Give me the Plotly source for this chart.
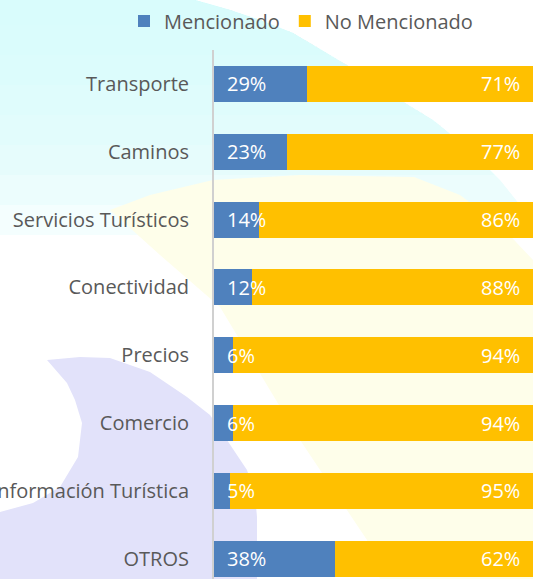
import plotly.graph_objects as go
import numpy as np

categories = ["Transporte", "Caminos", "Servicios Turísticos", "Conectividad",
              "Precios", "Comercio", "Información Turística", "OTROS"]
mencionado = [29, 23, 14, 12, 6, 6, 5, 38]
no_mencionado = [71, 77, 86, 88, 94, 94, 95, 62]

W, H = 533, 579
L, R, T, B = 214, 0, 50, 0
PW, PH = W - L - R, H - T - B


def px(x):
    return (x - L) / PW


def py(y):
    return (H - B - y) / PH


def path(points):
    return "M " + " L ".join(f"{px(x):.5f},{py(y):.5f}" for x, y in points) + " Z"


shapes = []
# cyan top-left region (gradient made with stacked translucent bands)
cyan_edge = [(195, 0), (230, 10), (260, 20), (293, 33), (350, 67), (400, 100),
             (433, 120), (470, 150), (500, 180), (520, 205), (533, 225)]
ex = np.array([p[0] for p in cyan_edge], float)
ey = np.array([p[1] for p in cyan_edge], float)
for yk in [25, 55, 85, 115, 145, 175, 205, 235]:
    pts = [(0, 0)] + [p for p in cyan_edge if p[1] < yk]
    if yk > ey[-1]:
        pts.append((533, yk))
    else:
        pts.append((float(np.interp(yk, ey, ex)), yk))
    pts.append((0, yk))
    shapes.append(dict(type="path", xref="paper", yref="paper", path=path(pts),
                       fillcolor="rgba(215,252,252,0.27)", line=dict(width=0),
                       layer="below"))

# faint yellow blob
yellow_pts = [(110, 210), (150, 195), (213, 180), (300, 175), (414, 177), (460, 195),
              (500, 225), (533, 260), (533, 579), (380, 579), (367, 540), (300, 440),
              (220, 307), (160, 255)]
shapes.append(dict(type="path", xref="paper", yref="paper", path=path(yellow_pts),
                   fillcolor="#fefeea", line=dict(width=0), layer="below"))

# lavender crescent
lav_pts = [(47, 360), (80, 357), (110, 358), (150, 372), (187, 397), (210, 415),
           (227, 440), (247, 470), (255, 495), (257, 517), (257, 579), (0, 579),
           (0, 512), (33, 503), (60, 487), (78, 457), (82, 423), (75, 400), (67, 383)]
shapes.append(dict(type="path", xref="paper", yref="paper", path=path(lav_pts),
                   fillcolor="#e2e2fa", line=dict(width=0), layer="below"))

fig = go.Figure()
fig.add_trace(go.Bar(y=categories, x=mencionado, name="Mencionado", orientation="h",
                     marker=dict(color="#4f81bd", line=dict(width=0)),
                     hoverinfo="skip"))
fig.add_trace(go.Bar(y=categories, x=no_mencionado, name="No Mencionado", orientation="h",
                     marker=dict(color="#ffc000", line=dict(width=0)),
                     hoverinfo="skip"))

annotations = []
for c, m, n in zip(categories, mencionado, no_mencionado):
    annotations.append(dict(x=0, y=c, xref="x", yref="y", text=f"{m}%", showarrow=False,
                            xanchor="left", xshift=11,
                            font=dict(family="Open Sans", size=20, color="white")))
    annotations.append(dict(x=m + n, y=c, xref="x", yref="y", text=f"{n}%", showarrow=False,
                            xanchor="right", xshift=-11,
                            font=dict(family="Open Sans", size=20, color="white")))

fig.update_layout(
    width=W, height=H,
    autosize=False,
    margin=dict(l=L, r=R, t=T, b=B, autoexpand=False),
    barmode="stack",
    bargap=0.47,
    paper_bgcolor="white",
    plot_bgcolor="rgba(0,0,0,0)",
    font=dict(family="Open Sans", size=20, color="#595959"),
    showlegend=True,
    legend=dict(orientation="h", xref="paper", yref="paper",
                x=px(124), xanchor="left", y=py(21), yanchor="middle",
                font=dict(family="Open Sans", size=20, color="#595959"),
                bgcolor="rgba(0,0,0,0)", traceorder="normal"),
    xaxis=dict(range=[0, 100], visible=False, fixedrange=True),
    yaxis=dict(type="category", categoryorder="array", categoryarray=categories,
               range=[7.30, -0.5], showline=True, linecolor="#d0d0d0", linewidth=2,
               showgrid=False, zeroline=False, ticks="", ticklabelstandoff=19,
               automargin=False, fixedrange=True,
               tickfont=dict(family="Open Sans", size=20, color="#595959")),
    shapes=shapes,
    annotations=annotations,
)

fig.write_html("out.html", config={"displayModeBar": False},
               post_script="document.body.style.margin='0';document.body.style.overflow='hidden';")
